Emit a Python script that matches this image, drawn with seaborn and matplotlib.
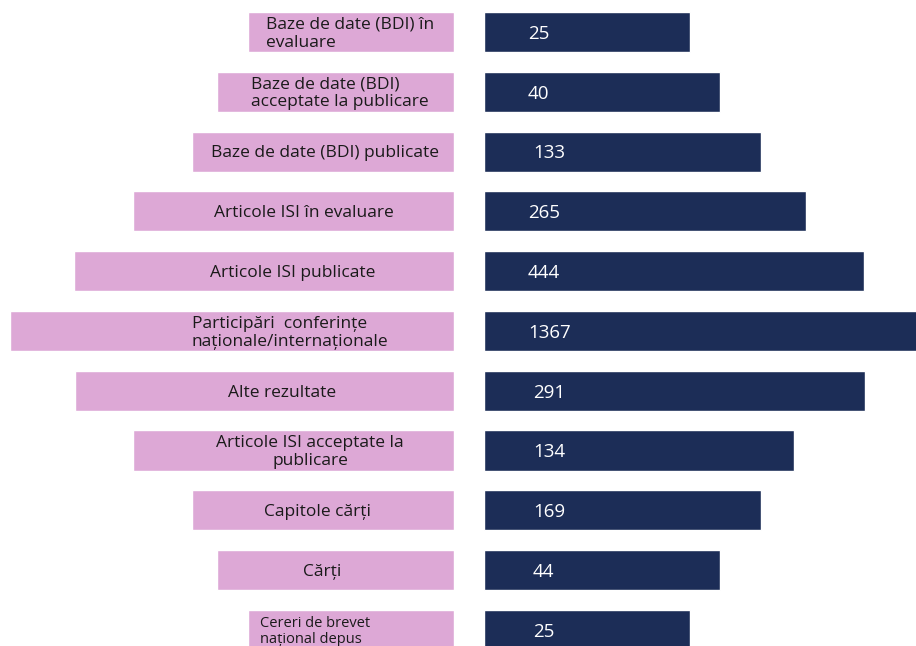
import pandas as pd
import seaborn as sns
import matplotlib.pyplot as plt

# rows top to bottom
labels = [
    "Baze de date (BDI) în\nevaluare",
    "Baze de date (BDI)\nacceptate la publicare",
    "Baze de date (BDI) publicate",
    "Articole ISI în evaluare",
    "Articole ISI publicate",
    "Participări  conferințe\nnaționale/internaționale",
    "Alte rezultate",
    "Articole ISI acceptate la\npublicare",
    "Capitole cărți",
    "Cărți",
    "Cereri de brevet\nnațional depus",
]
values = [25, 40, 133, 265, 444, 1367, 291, 134, 169, 44, 25]
# visual lengths of the boxes (not proportional to values)
label_len = [206, 237, 262, 321, 380, 444, 379, 321, 262, 237, 206]
bar_len = [206, 236, 277, 322, 380, 440, 381, 310, 277, 236, 206]

PINK = "#DDA8D6"
NAVY = "#1C2D57"

df = pd.DataFrame({"row": range(len(labels)), "label": labels, "value": values,
                   "label_len": label_len, "bar_len": bar_len})

sns.set_theme(style="white")
plt.rcParams["font.family"] = ["Open Sans", "DejaVu Sans"]

fig = plt.figure(figsize=(9.16, 6.46), dpi=100)
ax_l = fig.add_axes([0, 0, 454 / 916, 1])
ax_r = fig.add_axes([484 / 916, 0, 432 / 916, 1])

sns.barplot(data=df, y="row", x="label_len", orient="y", color=PINK,
            saturation=1, width=0.67, ax=ax_l)
sns.barplot(data=df, y="row", x="bar_len", orient="y", color=NAVY,
            saturation=1, width=0.67, ax=ax_r)

ylim = (10.27, -0.535)
ax_l.set_xlim(454, 0)
ax_r.set_xlim(0, 432)
for ax in (ax_l, ax_r):
    ax.set_ylim(*ylim)
    ax.axis("off")

# label text centres (px from image left) and alignment
text_x = [350, 340, 325, 304, 293, 290, 282, 310, 318, 322, 315]
multi = ["left", "left", "center", "center", "center", "left",
         "center", "center", "center", "center", "left"]
for i, lab in enumerate(labels):
    size = 10.5 if i == len(labels) - 1 else 12.5
    ax_l.text(454 - text_x[i], i + 0.03, lab, ha="center", va="center",
              multialignment=multi[i], fontsize=size, color="#1a1a1a",
              linespacing=1.15)

value_x = [528, 528, 533, 528, 528, 528, 533, 533, 533, 533, 533]
for i, v in enumerate(values):
    ax_r.text(value_x[i] - 484, i + 0.03, str(v), ha="left", va="center",
              fontsize=13.5, color="white")

fig.savefig("out.png", dpi=100)
